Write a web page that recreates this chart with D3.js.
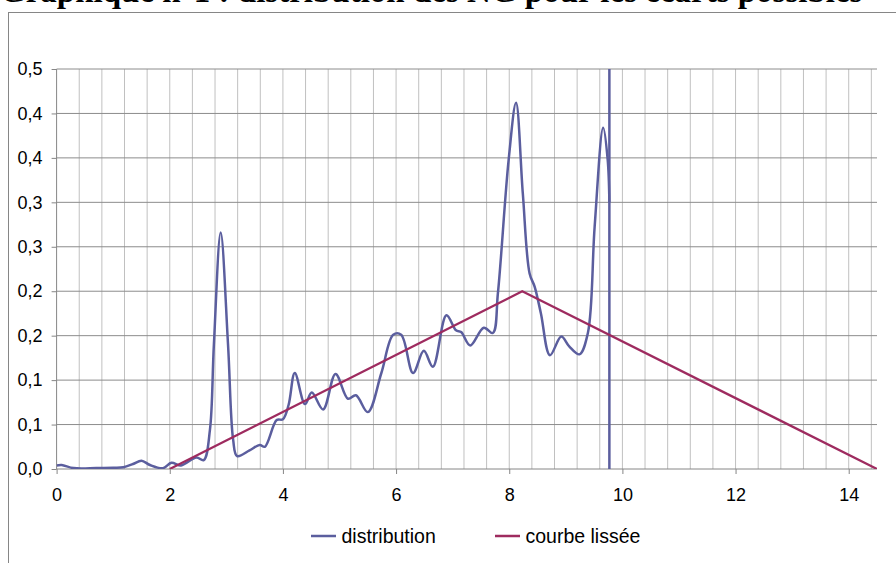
<!DOCTYPE html>
<html>
<head>
<meta charset="utf-8">
<script src="https://cdn.jsdelivr.net/npm/d3@7"></script>
<style>
  html, body { margin: 0; padding: 0; background: #ffffff; }
  svg { display: block; }
</style>
</head>
<body>
<svg id="chart" width="896" height="563"></svg>
<script>
// ---- data ----
const titleText = "Graphique n°1 : distribution des NG pour les écarts possibles";

const distX = [0, 0.09, 0.3, 0.7, 1.0, 1.18, 1.35, 1.5, 1.65, 1.88, 2.03, 2.2, 2.47, 2.6, 2.71, 2.78, 2.9, 3.03, 3.12, 3.19,
  3.41, 3.59, 3.68, 3.89, 4.0, 4.1, 4.21, 4.39, 4.51, 4.71, 4.93, 5.15, 5.29, 5.5, 5.74, 5.95, 6.09, 6.3, 6.49, 6.65,
  6.89, 7.06, 7.15, 7.31, 7.55, 7.71, 7.8, 7.99, 8.12, 8.24, 8.36, 8.45, 8.56, 8.72, 8.92, 9.06, 9.24, 9.39, 9.51, 9.66, 9.74, 9.77];
const distY = [0.004, 0.0045, 0.001, 0.001, 0.0015, 0.002, 0.0056, 0.0093, 0.0045, 0.001, 0.007, 0.004, 0.013, 0.010, 0.044, 0.14, 0.266, 0.14, 0.033, 0.0146,
  0.021, 0.027, 0.025, 0.055, 0.056, 0.072, 0.108, 0.073, 0.086, 0.067, 0.107, 0.079, 0.083, 0.064, 0.108, 0.151, 0.151, 0.108, 0.133, 0.115,
  0.173, 0.156, 0.154, 0.139, 0.159, 0.153, 0.198, 0.348, 0.412, 0.310, 0.220, 0.205, 0.175, 0.128, 0.149, 0.138, 0.129, 0.153, 0.273, 0.384, 0.348, 0.30];
// vertical end of the distribution series
const distTailX = [9.77, 9.77];
const distTailY = [0.45, 0];

const smoothX = [2.0, 8.23, 14.5];
const smoothY = [0, 0.2, 0];

const xTicks = [0, 2, 4, 6, 8, 10, 12, 14];
const xTickLabels = ["0", "2", "4", "6", "8", "10", "12", "14"];
const yTicks = [0, 0.05, 0.1, 0.15, 0.2, 0.25, 0.3, 0.35, 0.4, 0.45];
const yTickLabels = ["0,0", "0,1", "0,1", "0,2", "0,2", "0,3", "0,3", "0,4", "0,4", "0,5"];
const xGridStep = 0.4;

const seriesNames = ["distribution", "courbe lissée"];
const seriesColors = ["#5b5e9e", "#9e2b5f"];

// ---- layout ----
const svg = d3.select("#chart");
const W = 896, H = 563;
const plot = { left: 56.6, right: 877, top: 69, bottom: 469 };

const x = d3.scaleLinear().domain([0, 14.5]).range([plot.left, plot.right]);
const y = d3.scaleLinear().domain([0, 0.45]).range([plot.bottom, plot.top]);

// chart border
svg.append("rect")
  .attr("x", 8.5).attr("y", 12.5)
  .attr("width", W + 10).attr("height", H + 10)
  .attr("fill", "#fff").attr("stroke", "#868686").attr("stroke-width", 1);

// title (mostly clipped above the page)
svg.append("text")
  .attr("x", 0).attr("y", 1.5)
  .attr("font-family", "'Liberation Serif', 'Times New Roman', serif")
  .attr("font-weight", "bold")
  .attr("font-size", 33)
  .attr("fill", "#000")
  .text(titleText);

// vertical gridlines
const xGrid = d3.range(xGridStep, 14.5 + 1e-9, xGridStep);
svg.append("g").selectAll("line").data(xGrid).join("line")
  .attr("x1", d => x(d)).attr("x2", d => x(d))
  .attr("y1", plot.top).attr("y2", plot.bottom)
  .attr("stroke", "#c0c0c0").attr("stroke-width", 1);

// horizontal gridlines
svg.append("g").selectAll("line").data(yTicks.slice(1)).join("line")
  .attr("x1", plot.left).attr("x2", plot.right)
  .attr("y1", d => y(d)).attr("y2", d => y(d))
  .attr("stroke", "#8c8c8c").attr("stroke-width", 1);

// axes
const yAxis = d3.axisLeft(y).tickValues(yTicks)
  .tickFormat((d, i) => yTickLabels[i]).tickSize(5).tickPadding(9);
const gy = svg.append("g").attr("transform", `translate(${plot.left},0)`).call(yAxis);
const xAxis = d3.axisBottom(x).tickValues(xTicks)
  .tickFormat((d, i) => xTickLabels[i]).tickSize(5).tickPadding(14);
const gx = svg.append("g").attr("transform", `translate(0,${plot.bottom})`).call(xAxis);

[gx, gy].forEach(g => {
  g.select(".domain").attr("stroke", "#868686").attr("stroke-width", 1);
  g.selectAll(".tick line").attr("stroke", "#868686");
  g.selectAll(".tick text")
    .attr("font-family", "'Liberation Sans', Arial, sans-serif")
    .attr("font-size", 18).attr("fill", "#000");
});
gy.select(".domain").attr("d", `M0,${plot.bottom}V${plot.top}`);
gx.select(".domain").attr("d", `M${plot.left},0H${plot.right}`);

// clip
svg.append("clipPath").attr("id", "clip").append("rect")
  .attr("x", plot.left).attr("y", plot.top)
  .attr("width", plot.right - plot.left).attr("height", plot.bottom - plot.top);

const dist = distX.map((d, i) => [d, distY[i]]);
const tail = distTailX.map((d, i) => [d, distTailY[i]]);
const smooth = smoothX.map((d, i) => [d, smoothY[i]]);

const lineSmooth = d3.line().x(d => x(d[0])).y(d => y(d[1])).curve(d3.curveCatmullRom.alpha(0.5));
const lineStraight = d3.line().x(d => x(d[0])).y(d => y(d[1]));

const gLines = svg.append("g").attr("clip-path", "url(#clip)");
gLines.append("path").datum(dist).attr("d", lineSmooth)
  .attr("fill", "none").attr("stroke", seriesColors[0]).attr("stroke-width", 2.5)
  .attr("stroke-linejoin", "round");
gLines.append("path").datum(tail).attr("d", lineStraight)
  .attr("fill", "none").attr("stroke", seriesColors[0]).attr("stroke-width", 2.5);
gLines.append("path").datum(smooth).attr("d", lineStraight)
  .attr("fill", "none").attr("stroke", seriesColors[1]).attr("stroke-width", 2.25)
  .attr("stroke-linejoin", "round");

// legend
const legendPos = [311, 495];
const legendY = 536;
const lg = svg.append("g");
seriesNames.forEach((name, i) => {
  lg.append("line")
    .attr("x1", legendPos[i]).attr("x2", legendPos[i] + 25)
    .attr("y1", legendY).attr("y2", legendY)
    .attr("stroke", seriesColors[i]).attr("stroke-width", 2.5);
  lg.append("text")
    .attr("x", legendPos[i] + 30.5).attr("y", legendY)
    .attr("dy", "0.35em")
    .attr("font-family", "'Liberation Sans', Arial, sans-serif")
    .attr("font-size", 19.5).attr("fill", "#000")
    .text(name);
});
</script>
</body>
</html>
